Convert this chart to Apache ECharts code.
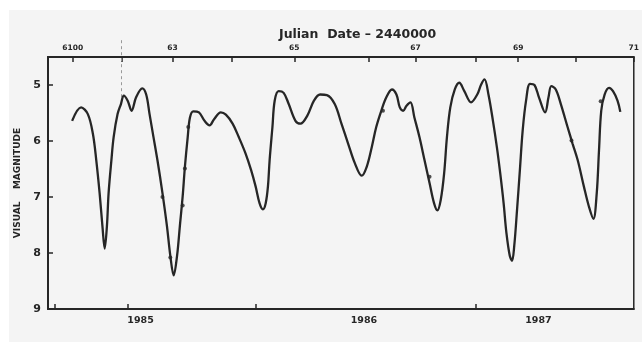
<!DOCTYPE html>
<html>
<head>
<meta charset="utf-8">
<script src="https://cdn.jsdelivr.net/npm/echarts@6/dist/echarts.min.js"></script>
<style>
  html, body { margin: 0; padding: 0; background: #fff; }
  #chart { width: 642px; height: 342px; }
</style>
</head>
<body>
<div id="chart"></div>
<script>
// light curve, x in Julian Date - 2440000, y in visual magnitude
const julianDates = [
  6099, 6115, 6127, 6136, 6142, 6148, 6153, 6157, 6161, 6164, 6169, 6173,
  6180, 6186, 6191, 6198, 6205, 6213, 6224, 6231, 6237, 6244, 6251, 6260,
  6268, 6274, 6280, 6286, 6291, 6296, 6300, 6305, 6309, 6315, 6325, 6335,
  6344, 6352, 6364, 6373, 6385, 6396, 6408, 6418, 6426, 6433, 6439, 6444,
  6448, 6451, 6456, 6460, 6467, 6476, 6485, 6497, 6506, 6518, 6530, 6541,
  6553, 6567, 6579, 6591, 6603, 6615, 6624, 6633, 6641, 6650, 6659, 6669,
  6677, 6683, 6689, 6695, 6702, 6709, 6718, 6727, 6736, 6744, 6750, 6756,
  6762, 6767, 6773, 6781, 6789, 6798, 6810, 6821, 6828, 6834, 6841, 6849,
  6856, 6862, 6868, 6873, 6879, 6883, 6887, 6892, 6897, 6902, 6908, 6915,
  6923, 6931, 6942, 6948, 6953, 6961, 6970, 6982, 6991, 7000, 7011, 7020,
  7028, 7034, 7038, 7042, 7048, 7056, 7063, 7071, 7076
];
const magnitudes = [
  5.64, 5.40, 5.52, 5.87, 6.34, 6.93, 7.52, 7.92, 7.52, 6.93, 6.34, 5.93,
  5.52, 5.34, 5.19, 5.28, 5.46, 5.22, 5.06, 5.17, 5.52, 5.93, 6.34, 6.93,
  7.52, 8.05, 8.40, 8.05, 7.52, 6.99, 6.46, 5.93, 5.58, 5.47, 5.49, 5.64,
  5.72, 5.61, 5.49, 5.53, 5.69, 5.93, 6.22, 6.52, 6.81, 7.11, 7.22, 7.11,
  6.81, 6.34, 5.75, 5.28, 5.11, 5.14, 5.34, 5.64, 5.69, 5.55, 5.28, 5.17,
  5.18, 5.34, 5.69, 6.05, 6.40, 6.62, 6.46, 6.11, 5.75, 5.46, 5.22, 5.08,
  5.17, 5.40, 5.46, 5.37, 5.31, 5.58, 5.93, 6.34, 6.75, 7.11, 7.24, 7.05,
  6.58, 5.93, 5.40, 5.08, 4.96, 5.11, 5.31, 5.17, 4.99, 4.90, 5.17, 5.64,
  6.11, 6.58, 7.11, 7.64, 8.05, 8.14, 7.87, 7.22, 6.52, 5.81, 5.28, 4.98,
  5.00, 5.22, 5.49, 5.22, 5.02, 5.08, 5.34, 5.75, 6.05, 6.34, 6.81, 7.17,
  7.39, 6.93, 6.17, 5.46, 5.17, 5.05, 5.11, 5.28, 5.48
];

// individual observations marked on the curve
const obsDates = [6260, 6274, 6296, 6300, 6306, 6653, 6736, 6989, 7041];
const obsMags = [7.00, 8.08, 7.15, 6.49, 5.75, 5.46, 6.64, 5.99, 5.29];

// marker line near JD 6187
const markDates = [6187, 6187];
const markMags = [4.2, 5.3];

// axis ticks and labels
const topTicks = [6100, 6187, 6278, 6383, 6495, 6628, 6711, 6818, 6894, 6997, 7100];
const topLabelValues = [6100, 6278, 6495, 6711, 6894, 7100];
const topLabelTexts = ['6100', '63', '65', '67', '69', '71'];
const bottomTicks = [6068, 6198, 6427, 6819];
const yearLabelValues = [6221, 6619, 6930];
const yearLabelTexts = ['1985', '1986', '1987'];
const magTicks = [5, 6, 7, 8, 9];

const curve = julianDates.map((d, i) => [d, magnitudes[i]]);
const obs = obsDates.map((d, i) => [d, obsMags[i]]);
const mark = markDates.map((d, i) => [d, markMags[i]]);

const ink = '#262626';
const labelFont = { color: ink, fontFamily: 'DejaVu Sans', fontWeight: 'bold' };

const chart = echarts.init(document.getElementById('chart'));

chart.setOption({
  backgroundColor: '#f4f4f4',
  animation: false,
  title: {
    text: 'Julian  Date \u2013 2440000',
    left: 274,
    top: 23,
    textStyle: { ...labelFont, fontSize: 12.5 },
  },
  graphic: [
    { type: 'rect', shape: { x: 0, y: 0, width: 9, height: 342 }, style: { fill: '#fff' } },
    { type: 'rect', shape: { x: 0, y: 0, width: 642, height: 10 }, style: { fill: '#fff' } },
  ],
  grid: {
    left: 48,
    right: 6,
    top: 57,
    bottom: 33,
    show: true,
    borderColor: ink,
    borderWidth: 1.5,
    backgroundColor: 'transparent',
  },
  xAxis: [
    {
      type: 'value',
      position: 'bottom',
      min: 6056,
      max: 7100,
      axisLine: { lineStyle: { color: ink, width: 2 } },
      axisTick: { inside: true, length: 5, customValues: bottomTicks, lineStyle: { color: ink, width: 1.5 } },
      axisLabel: {
        ...labelFont,
        fontSize: 9.5,
        margin: 7,
        customValues: yearLabelValues,
        formatter: v => yearLabelTexts[yearLabelValues.indexOf(v)] || '',
      },
      splitLine: { show: false },
    },
    {
      type: 'value',
      position: 'top',
      min: 6056,
      max: 7100,
      axisLine: { lineStyle: { color: ink, width: 2 } },
      axisTick: { inside: true, length: 5, customValues: topTicks, lineStyle: { color: ink, width: 1.5 } },
      axisLabel: {
        ...labelFont,
        fontSize: 7.5,
        margin: 5,
        customValues: topLabelValues,
        formatter: v => topLabelTexts[topLabelValues.indexOf(v)] || '',
      },
      splitLine: { show: false },
    },
  ],
  yAxis: {
    type: 'value',
    inverse: true,
    min: 4.5,
    max: 9,
    name: 'VISUAL    MAGNITUDE',
    nameLocation: 'middle',
    nameGap: 25,
    nameTextStyle: { ...labelFont, fontSize: 9 },
    axisLine: { lineStyle: { color: ink, width: 2 } },
    axisTick: { inside: true, length: 5, customValues: magTicks, lineStyle: { color: ink, width: 1.5 } },
    axisLabel: { ...labelFont, fontSize: 11, margin: 7, customValues: magTicks },
    splitLine: { show: false },
  },
  series: [
    {
      name: 'light curve',
      type: 'line',
      data: curve,
      smooth: 0.35,
      showSymbol: false,
      lineStyle: { color: ink, width: 2.3 },
      z: 3,
    },
    {
      name: 'observations',
      type: 'scatter',
      data: obs,
      symbolSize: 4,
      itemStyle: { color: ink },
      z: 4,
    },
    {
      name: 'marker',
      type: 'line',
      data: mark,
      clip: false,
      showSymbol: false,
      lineStyle: { color: '#999', width: 1, type: [3, 3] },
      z: 2,
    },
  ],
});
</script>
</body>
</html>
